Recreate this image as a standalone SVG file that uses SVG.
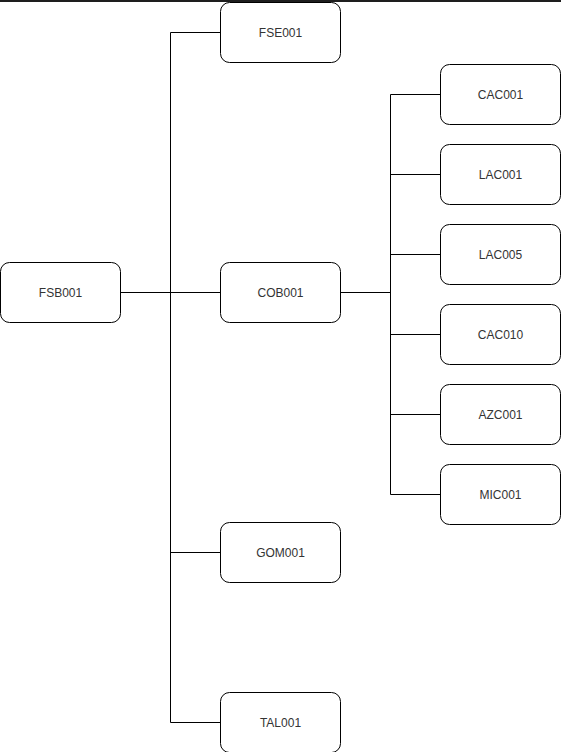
<svg xmlns="http://www.w3.org/2000/svg" width="561" height="752" viewBox="0 0 561 752">
<style>
.n rect{fill:#fff;stroke:#000;stroke-width:1}
.n text{font-family:"Liberation Sans",Arial,sans-serif;font-size:12px;fill:#333;text-anchor:middle;dominant-baseline:central}
#connectors path{fill:none;stroke:#000;stroke-width:1}
</style>
<rect x="0" y="0" width="561" height="2" fill="#1e1e1e"/>
<g id="connectors">
<path d="M170.5 32.5V722.5"/>
<path d="M170.5 32.5H220.5"/>
<path d="M120.5 292.5H220.5"/>
<path d="M170.5 552.5H220.5"/>
<path d="M170.5 722.5H220.5"/>
<path d="M340.5 292.5H390.5"/>
<path d="M390.5 94.5V494.5"/>
<path d="M390.5 94.5H440.5"/>
<path d="M390.5 174.5H440.5"/>
<path d="M390.5 254.5H440.5"/>
<path d="M390.5 334.5H440.5"/>
<path d="M390.5 414.5H440.5"/>
<path d="M390.5 494.5H440.5"/>
</g>
<g id="FSE001" class="n"><rect x="220.5" y="2.5" width="120" height="60" rx="9"/><text x="280.5" y="32.5">FSE001</text></g>
<g id="FSB001" class="n"><rect x="0.5" y="262.5" width="120" height="60" rx="9"/><text x="60.5" y="292.5">FSB001</text></g>
<g id="COB001" class="n"><rect x="220.5" y="262.5" width="120" height="60" rx="9"/><text x="280.5" y="292.5">COB001</text></g>
<g id="GOM001" class="n"><rect x="220.5" y="522.5" width="120" height="60" rx="9"/><text x="280.5" y="552.5">GOM001</text></g>
<g id="TAL001" class="n"><rect x="220.5" y="692.5" width="120" height="60" rx="9"/><text x="280.5" y="722.5">TAL001</text></g>
<g id="CAC001" class="n"><rect x="440.5" y="64.5" width="120" height="60" rx="9"/><text x="500.5" y="94.5">CAC001</text></g>
<g id="LAC001" class="n"><rect x="440.5" y="144.5" width="120" height="60" rx="9"/><text x="500.5" y="174.5">LAC001</text></g>
<g id="LAC005" class="n"><rect x="440.5" y="224.5" width="120" height="60" rx="9"/><text x="500.5" y="254.5">LAC005</text></g>
<g id="CAC010" class="n"><rect x="440.5" y="304.5" width="120" height="60" rx="9"/><text x="500.5" y="334.5">CAC010</text></g>
<g id="AZC001" class="n"><rect x="440.5" y="384.5" width="120" height="60" rx="9"/><text x="500.5" y="414.5">AZC001</text></g>
<g id="MIC001" class="n"><rect x="440.5" y="464.5" width="120" height="60" rx="9"/><text x="500.5" y="494.5">MIC001</text></g>
</svg>
